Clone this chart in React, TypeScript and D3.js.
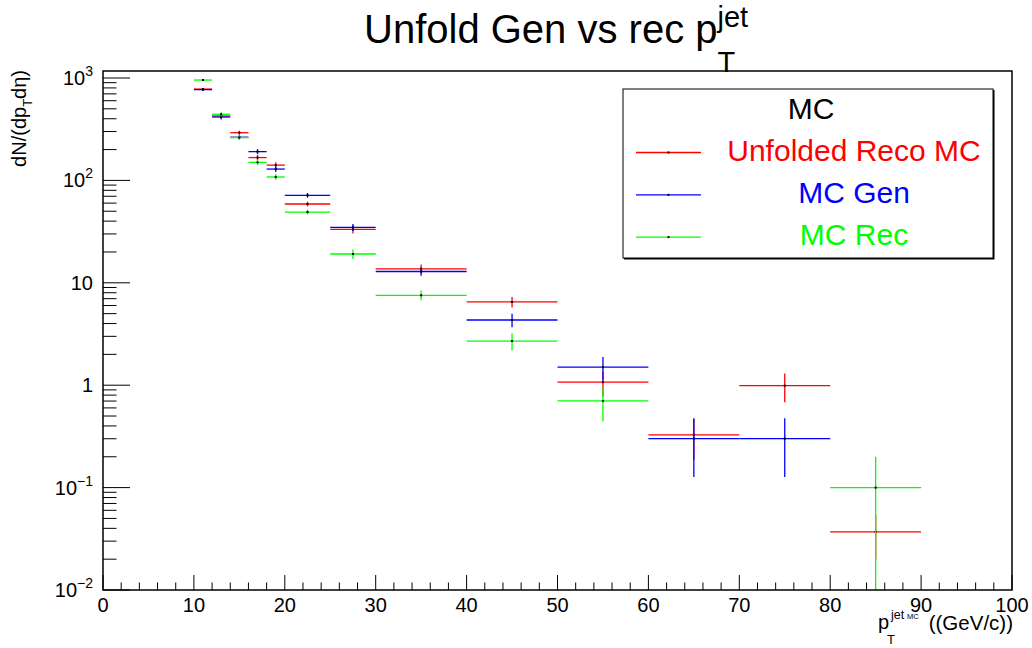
import React from "react";
import * as d3 from "d3";

// Bin edges of the jet pT histogram (GeV/c)
const binEdges = [10, 12, 14, 16, 18, 20, 25, 30, 40, 50, 60, 70, 80, 90];

// Unfolded reco MC
const unfoldedValues = [780, 425, 292, 167, 141, 58.8, 33.3, 13.7, 6.5, 1.07, 0.327, 0.99, 0.037];
const unfoldedErrors = [18, 24, 13, 10, 9, 3.1, 3.0, 1.4, 0.75, 0.3, 0.14, 0.31, 0.017];

// Generator-level MC
const genValues = [770, 416, 264, 191, 129, 71.5, 34.8, 12.9, 4.33, 1.5, 0.301, 0.301, null];
const genErrors = [18, 22, 12, 11, 8, 3.8, 2.7, 1.2, 0.65, 0.39, 0.174, 0.174, null];

// Reconstructed MC
const recValues = [955, 442, 262, 150, 108, 49.1, 19.1, 7.55, 2.7, 0.702, null, null, 0.1];
const recErrors = [20, 22, 12, 9, 7, 2.6, 2.0, 0.8, 0.52, 0.26, null, null, 0.1];

const xTickValues = [0, 10, 20, 30, 40, 50, 60, 70, 80, 90, 100];
const yDecades = [-2, -1, 0, 1, 2, 3];
const yDecadeLabels = ["10|−2", "10|−1", "1", "10", "10|2", "10|3"];

const legendTitle = "MC";
const seriesNames = ["Unfolded Reco MC", "MC Gen", "MC Rec"];

const FONT = "'Liberation Sans', Arial, Helvetica, sans-serif";
const W = 1032;
const H = 648;
const frame = { left: 103, right: 1012, top: 71, bottom: 590 };

const x = d3.scaleLinear().domain([0, 100]).range([frame.left, frame.right]);
const y = d3.scaleLog().domain([0.01, 1000]).range([frame.bottom, 78]);

type Series = {
  name: string;
  color: string;
  values: (number | null)[];
  errors: (number | null)[];
};

const series: Series[] = [
  { name: seriesNames[0], color: "#ff0000", values: unfoldedValues, errors: unfoldedErrors },
  { name: seriesNames[1], color: "#0000ff", values: genValues, errors: genErrors },
  { name: seriesNames[2], color: "#00ff00", values: recValues, errors: recErrors },
];

function yc(v: number) {
  // values at or below zero fall off the bottom of the log axis
  if (v <= 0) return frame.bottom + 50;
  return y(v);
}

function HistErrors({ s }: { s: Series }) {
  const marks: React.ReactNode[] = [];
  s.values.forEach((v, i) => {
    if (v == null) return;
    const e = s.errors[i] ?? 0;
    const lo = binEdges[i];
    const hi = binEdges[i + 1];
    const cx = x((lo + hi) / 2);
    const cy = y(v);
    marks.push(
      <g key={i}>
        <line x1={x(lo)} x2={x(hi)} y1={cy} y2={cy} stroke={s.color} strokeWidth={1.3} />
        <line x1={cx} x2={cx} y1={yc(v + e)} y2={yc(v - e)} stroke={s.color} strokeWidth={1.3} />
        <rect x={cx - 1} y={cy - 1} width={2} height={2} fill="#000" />
      </g>
    );
  });
  return <g clipPath="url(#frameClip)">{marks}</g>;
}

function XAxis() {
  const minor = d3.range(0, 101, 2);
  return (
    <g>
      {minor.map((t) => {
        const major = t % 10 === 0;
        return (
          <line
            key={t}
            x1={x(t)}
            x2={x(t)}
            y1={frame.bottom}
            y2={frame.bottom - (major ? 15 : 7.5)}
            stroke="#000"
            strokeWidth={1}
          />
        );
      })}
      {xTickValues.map((t) => (
        <text key={t} x={x(t)} y={612} fontSize={20} textAnchor="middle" fontFamily={FONT}>
          {t}
        </text>
      ))}
    </g>
  );
}

function YAxis() {
  const ticks: React.ReactNode[] = [];
  yDecades.forEach((d) => {
    for (let k = 1; k <= 9; k++) {
      const v = k * Math.pow(10, d);
      if (d === 3 && k > 1) continue;
      const yy = y(v);
      ticks.push(
        <line
          key={`${d}-${k}`}
          x1={frame.left}
          x2={frame.left + (k === 1 ? 27 : 13.5)}
          y1={yy}
          y2={yy}
          stroke="#000"
          strokeWidth={1}
        />
      );
    }
  });
  return (
    <g>
      {ticks}
      {yDecades.map((d, i) => {
        const [base, sup] = yDecadeLabels[i].split("|");
        return (
          <text
            key={d}
            x={93}
            y={y(Math.pow(10, d)) + 7}
            fontSize={20}
            textAnchor="end"
            fontFamily={FONT}
          >
            <tspan>{base}</tspan>
            {sup ? (
              <tspan fontSize={14} dy={-9}>
                {sup}
              </tspan>
            ) : null}
          </text>
        );
      })}
    </g>
  );
}

function Legend() {
  const box = { x: 623, y: 89, w: 370, h: 169 };
  const rowY = [152.5, 194.8, 237.1];
  return (
    <g>
      <rect x={box.x + 1} y={box.y + 1} width={box.w + 0.5} height={box.h + 0.5} fill="#000" />
      <rect x={box.x} y={box.y} width={box.w} height={box.h} fill="#fff" stroke="#000" strokeWidth={1} />
      <text x={811} y={119} fontSize={30} textAnchor="middle" fontFamily={FONT}>
        {legendTitle}
      </text>
      {series.map((s, i) => (
        <g key={s.name}>
          <line x1={636} x2={701} y1={rowY[i]} y2={rowY[i]} stroke={s.color} strokeWidth={1.3} />
          <rect x={667.5} y={rowY[i] - 1} width={2} height={2} fill="#000" />
          <text
            x={854}
            y={rowY[i] + 8}
            fontSize={30}
            textAnchor="middle"
            fill={s.color}
            fontFamily={FONT}
          >
            {s.name}
          </text>
        </g>
      ))}
    </g>
  );
}

export default function App() {
  return (
    <svg
      width={W}
      height={H}
      viewBox={`0 0 ${W} ${H}`}
      style={{ position: "absolute", left: 0, top: 0, background: "#fff" }}
      fontFamily={FONT}
    >
      <defs>
        <clipPath id="frameClip">
          <rect
            x={frame.left}
            y={frame.top}
            width={frame.right - frame.left}
            height={frame.bottom - frame.top}
          />
        </clipPath>
      </defs>
      <rect x={0} y={0} width={W} height={H} fill="#fff" />

      {/* title */}
      <text x={364} y={43} fontSize={40} fontFamily={FONT}>
        <tspan>Unfold Gen vs rec p</tspan>
        <tspan fontSize={29} dy={29}>
          T
        </tspan>
        <tspan fontSize={29} dx={-17.7} dy={-45}>
          jet
        </tspan>
      </text>

      {series.map((s) => (
        <HistErrors key={s.name} s={s} />
      ))}

      <XAxis />
      <YAxis />

      <rect
        x={frame.left}
        y={frame.top}
        width={frame.right - frame.left}
        height={frame.bottom - frame.top}
        fill="none"
        stroke="#000"
        strokeWidth={1.5}
      />

      {/* y-axis title */}
      <text transform="translate(26,70) rotate(-90)" fontSize={20} textAnchor="end" fontFamily={FONT}>
        <tspan>dN/(dp</tspan>
        <tspan fontSize={13} dy={6}>
          T
        </tspan>
        <tspan dy={-6}>dη)</tspan>
      </text>

      {/* x-axis title */}
      <g fontFamily={FONT}>
        <text x={878} y={629} fontSize={20}>
          p
        </text>
        <text x={887} y={644} fontSize={13}>
          T
        </text>
        <text x={891} y={619} fontSize={12.5}>
          jet
        </text>
        <text x={907} y={619} fontSize={7.5}>
          MC
        </text>
        <text x={1013} y={629.5} fontSize={20.5} textAnchor="end">
          ((GeV/c))
        </text>
      </g>

      <Legend />
    </svg>
  );
}
